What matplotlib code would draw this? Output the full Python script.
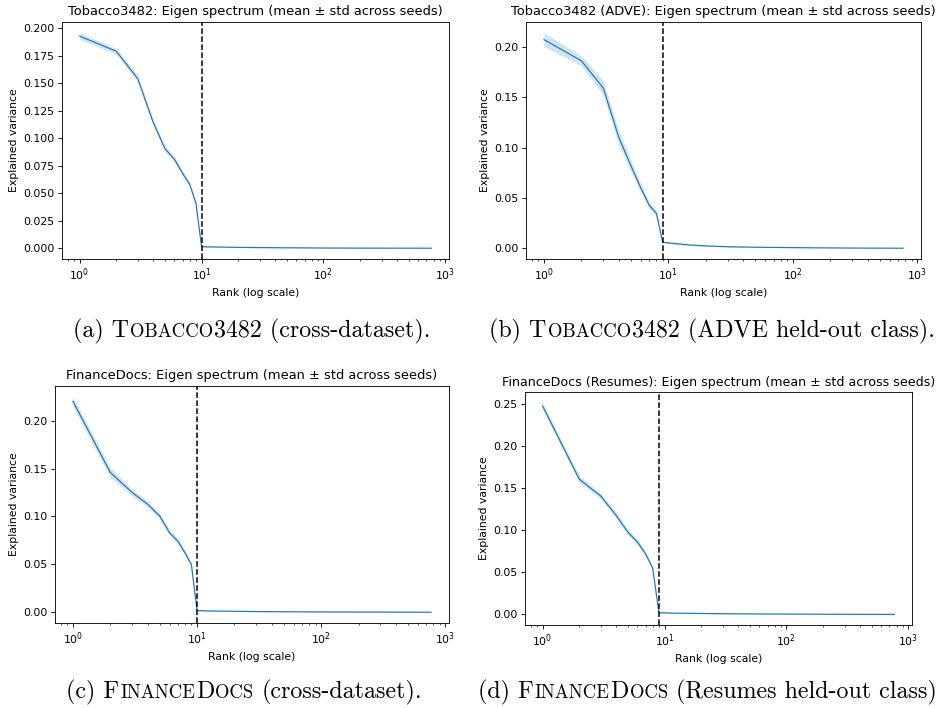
import numpy as np
import matplotlib
matplotlib.use("Agg")
import matplotlib.pyplot as plt

# explained variance per eigen rank (mean and std over seeds)
rank_a = [1, 2, 3, 4, 5, 6, 7, 8, 9, 10, 11, 12, 15, 20, 30, 50, 100, 200, 400, 768]
mean_a = [0.1927, 0.1789, 0.1540, 0.1148, 0.0906, 0.0807, 0.0680, 0.0580, 0.0408, 0.0015,
          0.0013, 0.0012, 0.0010, 0.0008, 0.0006, 0.0004, 0.0002, 0.0001, 0.00005, 0.0]
std_a = [0.0030, 0.0025, 0.0030, 0.0030, 0.0025, 0.0025, 0.0022, 0.0020, 0.0018, 0.0004,
         0.0003, 0.0003, 0.0003, 0.0002, 0.0002, 0.0001, 0.0001, 0.0001, 0.0, 0.0]
cut_a = 10

rank_b = [1, 2, 3, 4, 5, 6, 7, 8, 9, 10, 12, 15, 20, 30, 50, 100, 200, 400, 768]
mean_b = [0.2076, 0.1865, 0.1594, 0.1100, 0.0820, 0.0600, 0.0430, 0.0347, 0.0060, 0.0053,
          0.0043, 0.0032, 0.0023, 0.0015, 0.0010, 0.0006, 0.0003, 0.0001, 0.0]
std_b = [0.0068, 0.0050, 0.0074, 0.0065, 0.0060, 0.0045, 0.0035, 0.0030, 0.0008, 0.0007,
         0.0006, 0.0005, 0.0004, 0.0003, 0.0002, 0.0001, 0.0001, 0.0, 0.0]
cut_b = 9

rank_c = [1, 2, 3, 4, 5, 6, 7, 8, 9, 10, 11, 12, 15, 20, 30, 50, 100, 200, 400, 768]
mean_c = [0.2203, 0.1460, 0.1250, 0.1128, 0.1005, 0.0830, 0.0743, 0.0620, 0.0497, 0.0018,
          0.0016, 0.0014, 0.0012, 0.0010, 0.0007, 0.0005, 0.0003, 0.0002, 0.0001, 0.0]
std_c = [0.0047, 0.0050, 0.0035, 0.0032, 0.0030, 0.0030, 0.0030, 0.0025, 0.0020, 0.0004,
         0.0003, 0.0003, 0.0003, 0.0002, 0.0002, 0.0001, 0.0001, 0.0001, 0.0, 0.0]
cut_c = 10

rank_d = [1, 2, 3, 4, 5, 6, 7, 8, 9, 10, 12, 15, 20, 30, 50, 100, 200, 400, 768]
mean_d = [0.2472, 0.1603, 0.1404, 0.1176, 0.0977, 0.0857, 0.0718, 0.0546, 0.0020, 0.0018,
          0.0015, 0.0013, 0.0011, 0.0008, 0.0006, 0.0004, 0.0002, 0.0001, 0.0]
std_d = [0.0040, 0.0040, 0.0035, 0.0035, 0.0035, 0.0030, 0.0025, 0.0020, 0.0004, 0.0003,
         0.0003, 0.0003, 0.0002, 0.0002, 0.0001, 0.0001, 0.0001, 0.0, 0.0]
cut_d = 9

titles = ["Tobacco3482: Eigen spectrum (mean \u00b1 std across seeds)",
          "Tobacco3482 (ADVE): Eigen spectrum (mean \u00b1 std across seeds)",
          "FinanceDocs: Eigen spectrum (mean \u00b1 std across seeds)",
          "FinanceDocs (Resumes): Eigen spectrum (mean \u00b1 std across seeds)"]
title_sizes = [12, 12, 12, 11.7]

# captions as (text, small caps?) pieces; a leading space means a word gap
captions = [
    [("(a) T", False), ("OBACCO", True), ("3482 (cross-dataset).", False)],
    [("(b) T", False), ("OBACCO", True), ("3482 (ADVE held-out class).", False)],
    [("(c) F", False), ("INANCE", True), ("D", False), ("OCS", True), (" (cross-dataset).", False)],
    [("(d) F", False), ("INANCE", True), ("D", False), ("OCS", True),
     (" (Resumes held-out class)", False)],
]

W, H, DPI = 940, 708, 78
CAP_PX = 24

fig = plt.figure(figsize=(W / DPI, H / DPI), dpi=DPI)


def axes_px(left, top, right, bottom):
    return fig.add_axes([left / W, 1 - bottom / H, (right - left) / W, (bottom - top) / H])


def plot_panel(ax, ranks, mean, std, cut, title, tsize):
    r = np.array(ranks)
    m = np.array(mean)
    s = np.array(std)
    ax.plot(r, m, color="C0", lw=1.1)
    ax.fill_between(r, m - s, m + s, color="C0", alpha=0.2, lw=0)
    ax.axvline(cut, color="black", ls="--", lw=1.4)
    ax.set_xscale("log")
    ax.set_xlabel("Rank (log scale)")
    ax.set_ylabel("Explained variance")
    ax.set_title(title, fontsize=tsize)


def caption(pieces, baseline, cx=None, right=None):
    renderer = fig.canvas.get_renderer()
    y = 1 - baseline / H
    size = CAP_PX * 72 / DPI
    items = []
    for txt, small in pieces:
        gap = 0.333 * CAP_PX if txt.startswith(" ") else 0.04 * CAP_PX
        t = fig.text(0, y, txt.strip(), family="cmr10", size=size * 0.78 if small else size,
                     va="baseline", ha="left")
        items.append((t, gap, t.get_window_extent(renderer).width))
    total = sum(w for _, _, w in items) + sum(g for _, g, _ in items[1:])
    x = cx - total / 2 if right is None else right - total
    for i, (t, gap, w) in enumerate(items):
        if i > 0:
            x += gap
        t.set_x(x / W)
        x += w


boxes = [(62, 22, 449, 259), (526, 22, 921, 259), (55, 386, 449, 623), (525, 392, 912, 625)]
data = [(rank_a, mean_a, std_a, cut_a), (rank_b, mean_b, std_b, cut_b),
        (rank_c, mean_c, std_c, cut_c), (rank_d, mean_d, std_d, cut_d)]

for box, (r, m, s, c), title, ts in zip(boxes, data, titles, title_sizes):
    ax = axes_px(*box)
    plot_panel(ax, r, m, s, c, title, ts)

caption(captions[0], 337, cx=252)
caption(captions[1], 337, cx=712)
caption(captions[2], 698, cx=244)
caption(captions[3], 698, right=937)

fig.savefig("out.png", dpi=DPI)
